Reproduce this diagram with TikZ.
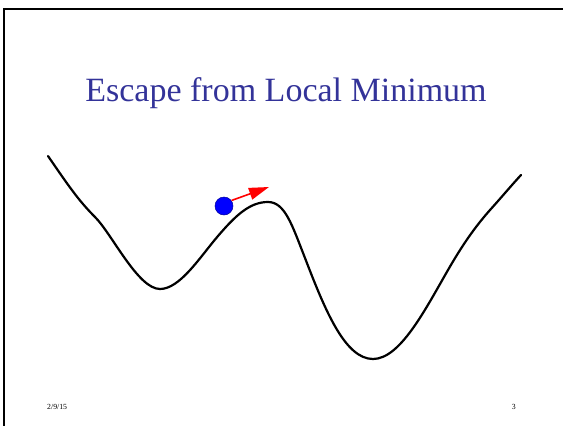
\documentclass[tikz,border=0pt]{standalone}
\usepackage{fontspec}
\setmainfont{Liberation Serif}
\usetikzlibrary{arrows.meta}
\definecolor{titleblue}{RGB}{51,51,153}
\begin{document}
\begin{tikzpicture}[x=1pt,y=-1pt,
  frame/.style={line width=2.5pt,black},
  landscape/.style={line width=2.2pt,black,line join=round,line cap=round},
  ball/.style={circle,fill=blue,draw=blue!60!black,line width=0.5pt,minimum size=18pt,inner sep=0pt},
  push/.style={red,line width=1.6pt,-{Triangle[length=20pt,width=12pt]}},
  ttl/.style={font=\fontsize{34}{40}\selectfont,text=titleblue,inner sep=0pt},
  foot/.style={font=\fontsize{7.8}{9}\selectfont,inner sep=0pt}]
\useasboundingbox (0,0) rectangle (563,426);
\draw[frame] (4,430) -- (4,9) -- (570,9);
\node[ttl,anchor=base] (title) at (286,101) {Escape from Local Minimum};
\draw[landscape] (48,156) .. controls (68,185) and (78,200) .. (95,217)
  .. controls (112,234) and (138,289) .. (160,289)
  .. controls (180,289) and (200,257) .. (218,236)
  .. controls (236,215) and (250,202) .. (268,202)
  .. controls (285,202) and (292,225) .. (305,258)
  .. controls (325,310) and (345,359) .. (373,359)
  .. controls (400,359) and (425,310) .. (448,270)
  .. controls (463,244) and (475,227) .. (490,210)
  .. controls (500,199) and (510,187) .. (521,175);
\node[ball] (b) at (224,206) {};
\coordinate (tip) at (269,187);
\draw[push] (b.north east) ++(1,1) -- (tip);
\node[foot,anchor=base west] (date) at (47,409) {2/9/15};
\node[foot,anchor=base east] (page) at (516,409) {3};
\end{tikzpicture}
\end{document}
